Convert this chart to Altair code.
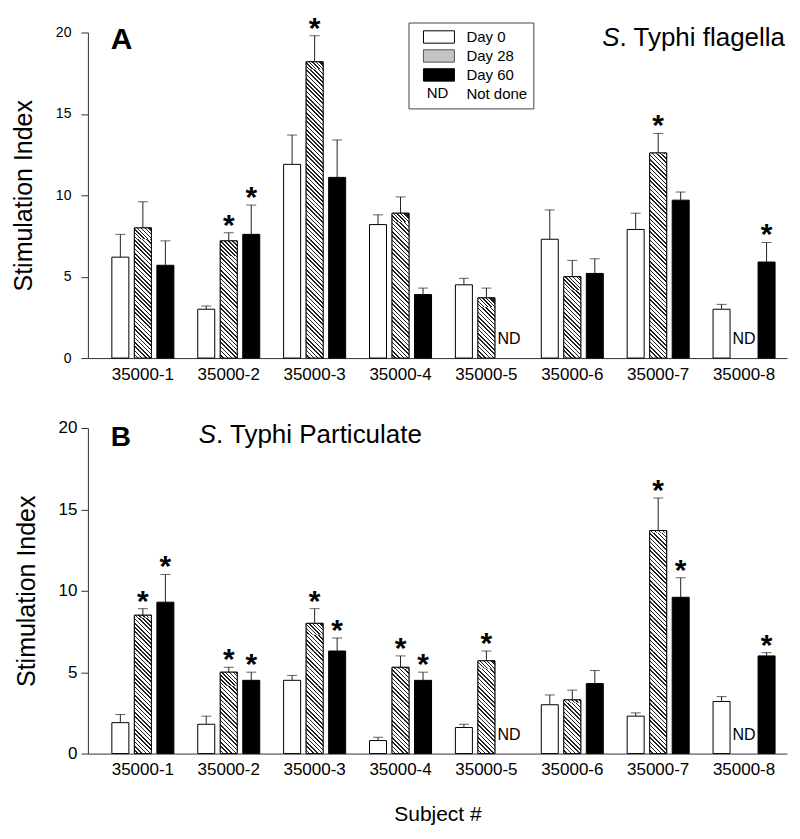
import math
import altair as alt
import pandas as pd

FONT = "Liberation Sans"

subjects = ["35000-1", "35000-2", "35000-3", "35000-4",
            "35000-5", "35000-6", "35000-7", "35000-8"]
days = ["Day 0", "Day 28", "Day 60"]

# Panel A: S. Typhi flagella  (means, SE, significance)
a_day0 = [6.2, 3.0, 11.9, 8.2, 4.5, 7.3, 7.9, 3.0]
a_day0_se = [1.4, 0.2, 1.8, 0.6, 0.4, 1.8, 1.0, 0.3]
a_day28 = [8.0, 7.2, 18.2, 8.9, 3.7, 5.0, 12.6, None]
a_day28_se = [1.6, 0.5, 1.6, 1.0, 0.6, 1.0, 1.2, None]
a_day60 = [5.7, 7.6, 11.1, 3.9, None, 5.2, 9.7, 5.9]
a_day60_se = [1.5, 1.8, 2.3, 0.4, None, 0.9, 0.5, 1.2]
a_star28 = [0, 1, 1, 0, 0, 0, 1, 0]
a_star60 = [0, 1, 0, 0, 0, 0, 0, 1]

# Panel B: S. Typhi Particulate
b_day0 = [1.9, 1.8, 4.5, 0.8, 1.6, 3.0, 2.3, 3.2]
b_day0_se = [0.5, 0.5, 0.3, 0.2, 0.2, 0.6, 0.2, 0.3]
b_day28 = [8.5, 5.0, 8.0, 5.3, 5.7, 3.3, 13.7, None]
b_day28_se = [0.4, 0.3, 0.9, 0.7, 0.6, 0.6, 2.0, None]
b_day60 = [9.3, 4.5, 6.3, 4.5, None, 4.3, 9.6, 6.0]
b_day60_se = [1.7, 0.5, 0.8, 0.5, None, 0.8, 1.2, 0.2]
b_star28 = [1, 1, 1, 1, 1, 0, 1, 0]
b_star60 = [1, 1, 1, 1, 0, 0, 1, 1]

W = 700
H = 326
PAD_OUT = 0.07
OFF_IN = 0.245
OFF_OUT = 0.53
step1 = W / (len(subjects) + 2 * PAD_OUT)
step2 = step1 / (len(days) - OFF_IN + 2 * OFF_OUT)
BAR_W = step2 * (1 - OFF_IN)
PX_PER_UNIT = H / 20.0
SEG = BAR_W / PX_PER_UNIT          # square hatch tile, in data units
N_TILE = 8                          # stripes per square tile
PERIOD = math.sqrt(2) * BAR_W / N_TILE
DARK = 0.36
INK = "#222222"


def build(means, ses, stars):
    rows = []
    for d, day in enumerate(days):
        for i, s in enumerate(subjects):
            m = means[d][i]
            se = ses[d][i]
            rows.append({
                "subject": s,
                "day": day,
                "value": m,
                "upper": None if m is None else m + se,
                "star": stars[d][i] if stars[d] is not None else 0,
                "nd": m is None,
            })
    return pd.DataFrame(rows)


def stripe_gradient(h_px):
    w = BAR_W
    L = (w + h_px) / math.sqrt(2)
    stops = []
    k = 0
    while k * PERIOD < L - 1e-9:
        a = min(1.0, k * PERIOD / L)
        b = min(1.0, (k + 1 - DARK) * PERIOD / L)
        c = min(1.0, (k + 1) * PERIOD / L)
        stops += [alt.GradientStop(color="white", offset=a),
                  alt.GradientStop(color="white", offset=b),
                  alt.GradientStop(color=INK, offset=b),
                  alt.GradientStop(color=INK, offset=c)]
        k += 1
    return alt.Gradient(gradient="linear", stops=stops,
                        x1=0, y1=1, x2=1, y2=1 - h_px / w)


def panel(df, letter, title_rest, title_x, title_y, letter_y, letter_size,
          show_legend, ytick_size, ylab_pad, ytitle_pad, show_xtitle):
    x_enc = alt.X("subject:N", sort=subjects,
                  scale=alt.Scale(domain=subjects, paddingInner=0,
                                  paddingOuter=PAD_OUT, align=1),
                  axis=alt.Axis(title="Subject #" if show_xtitle else None,
                                labelAngle=0, ticks=False, labelFontSize=17,
                                labelPadding=8, labelColor="black",
                                domainColor="#333333", titleFontSize=21,
                                titlePadding=26, titleColor="black",
                                titleFontWeight="normal"))
    xo_enc = alt.XOffset("day:N", sort=days,
                         scale=alt.Scale(domain=days, paddingInner=OFF_IN,
                                         paddingOuter=OFF_OUT))
    y_scale = alt.Scale(domain=[0, 20])
    y_enc = alt.Y("value:Q", scale=y_scale,
                  axis=alt.Axis(title="Stimulation Index", values=[0, 5, 10, 15, 20],
                                grid=False, tickSize=7, labelFontSize=ytick_size,
                                labelPadding=ylab_pad, titleFontSize=25,
                                titlePadding=ytitle_pad, labelColor="black",
                                titleColor="black", domainColor="#333333",
                                tickColor="#333333", titleFontWeight="normal"))

    bars_df = df[~df["nd"]]
    base = alt.Chart(bars_df).encode(x=x_enc, xOffset=xo_enc)

    if show_legend:
        legend = alt.Legend(
            title=None, orient="none", legendX=321, legendY=-10,
            direction="vertical", strokeColor="#444444", padding=6,
            symbolType="M-2,-0.8L2,-0.8L2,0.8L-2,0.8Z", symbolSize=240,
            symbolOffset=16, symbolStrokeWidth=1, labelFontSize=15,
            labelFont=FONT, labelColor="black", labelOffset=19, rowPadding=2,
            symbolOpacity=1)
    else:
        legend = None

    dom = days + ["Not done"]
    fill_enc = alt.Fill("day:N",
                        scale=alt.Scale(domain=dom,
                                        range=["white", "#c4c4c4", "black", "transparent"]),
                        legend=legend)
    stroke_enc = alt.Stroke("day:N",
                            scale=alt.Scale(domain=dom,
                                            range=["black", "#555555", "black", "transparent"]),
                            legend=legend)

    bars = base.mark_bar(strokeWidth=1).encode(y=y_enc, fill=fill_enc, stroke=stroke_enc)
    layers = [bars]

    # diagonal hatching of the Day 28 bars, tiled from square gradient cells
    d28 = bars_df[bars_df["day"] == "Day 28"]
    full_rows, part_rows = [], []
    for _, r in d28.iterrows():
        k_full = int(math.floor(r["value"] / SEG + 1e-9))
        for k in range(k_full):
            full_rows.append({"subject": r["subject"], "day": r["day"],
                              "y0": k * SEG, "y1": (k + 1) * SEG})
        if r["value"] - k_full * SEG > 1e-6:
            part_rows.append({"subject": r["subject"], "day": r["day"],
                              "y0": k_full * SEG, "y1": r["value"]})
    full_df = pd.DataFrame(full_rows)
    layers.append(
        alt.Chart(full_df).mark_bar(fill=stripe_gradient(BAR_W), strokeWidth=0)
        .encode(x=x_enc, xOffset=xo_enc, y=alt.Y("y0:Q", scale=y_scale), y2="y1:Q"))
    for pr in part_rows:
        h_px = (pr["y1"] - pr["y0"]) * PX_PER_UNIT
        layers.append(
            alt.Chart(pd.DataFrame([pr])).mark_bar(fill=stripe_gradient(h_px), strokeWidth=0)
            .encode(x=x_enc, xOffset=xo_enc, y=alt.Y("y0:Q", scale=y_scale), y2="y1:Q"))
    layers.append(
        alt.Chart(d28).mark_bar(fillOpacity=0, stroke="black", strokeWidth=1)
        .encode(x=x_enc, xOffset=xo_enc, y=alt.Y("value:Q", scale=y_scale)))

    err = base.mark_rule(color="#222222", strokeWidth=1).encode(
        y=alt.Y("value:Q"), y2="upper:Q")
    caps = base.mark_tick(color="#222222", thickness=1, size=10, orient="horizontal").encode(
        y=alt.Y("upper:Q"))
    stars = alt.Chart(bars_df[bars_df["star"] == 1]).mark_text(
        text="*", font=FONT, fontSize=30, fontWeight="bold", baseline="alphabetic",
        dy=2, color="black").encode(x=x_enc, xOffset=xo_enc, y=alt.Y("upper:Q"))
    nd = alt.Chart(df[df["nd"]]).mark_text(
        text="ND", font=FONT, fontSize=16, baseline="alphabetic", dy=-14,
        color="black").encode(x=x_enc, xOffset=xo_enc, y=alt.datum(0))
    layers += [err, caps, stars, nd]

    letter_mark = alt.Chart(pd.DataFrame({"t": [letter]})).mark_text(
        font=FONT, fontSize=letter_size, fontWeight="bold", align="left",
        baseline="alphabetic", color="black").encode(
        text="t:N", x=alt.value(23), y=alt.value(letter_y))
    s_mark = alt.Chart(pd.DataFrame({"t": ["S"]})).mark_text(
        font=FONT, fontSize=26, fontStyle="italic", align="left",
        baseline="alphabetic", color="black").encode(
        text="t:N", x=alt.value(title_x), y=alt.value(title_y))
    rest_mark = alt.Chart(pd.DataFrame({"t": [title_rest]})).mark_text(
        font=FONT, fontSize=26, align="left",
        baseline="alphabetic", color="black").encode(
        text="t:N", x=alt.value(title_x + 0.667 * 26), y=alt.value(title_y))
    layers += [letter_mark, s_mark, rest_mark]

    if show_legend:
        nd_leg = alt.Chart(pd.DataFrame({"t": ["ND"]})).mark_text(
            font=FONT, fontSize=15, align="center", baseline="middle",
            color="black").encode(text="t:N", x=alt.value(350), y=alt.value(61))
        layers.append(nd_leg)

    return alt.layer(*layers).properties(width=W, height=H)


df_a = build([a_day0, a_day28, a_day60], [a_day0_se, a_day28_se, a_day60_se],
             [None, a_star28, a_star60])
df_b = build([b_day0, b_day28, b_day60], [b_day0_se, b_day28_se, b_day60_se],
             [None, b_star28, b_star60])

pa = panel(df_a, "A", ". Typhi flagella", 515, 14, 17, 30, True, 14, 10, 19, False)
pb = panel(df_b, "B", ". Typhi Particulate", 111, 15, 18, 28, False, 17, 4, 19, True)

chart = alt.vconcat(pa, pb, spacing=37).properties(
    padding={"left": 3, "top": 5, "right": 5, "bottom": 5}
).configure_view(strokeWidth=0).configure_axis(
    labelFont=FONT, titleFont=FONT
).configure_legend(labelFont=FONT)

chart.save("out.html", embed_options={"renderer": "svg", "actions": False})
